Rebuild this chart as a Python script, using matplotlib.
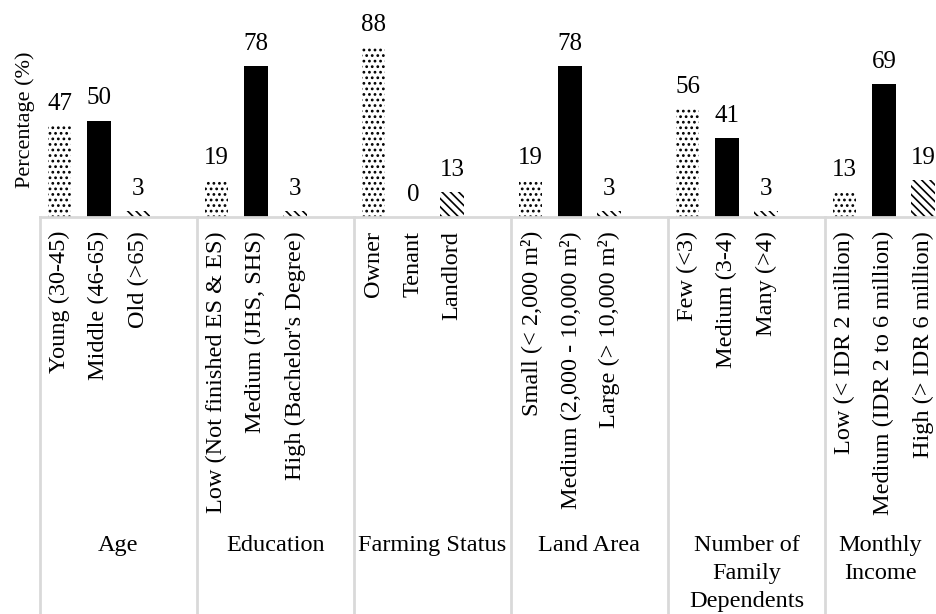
import matplotlib
matplotlib.use('Agg')
import matplotlib.pyplot as plt
import numpy as np

# data
groups = ['Age', 'Education', 'Farming Status', 'Land Area',
          'Number of\nFamily\nDependents', 'Monthly\nIncome']
labels = [
    ['Young (30-45)', 'Middle (46-65)', 'Old (>65)'],
    ['Low (Not finished ES & ES)', 'Medium (JHS, SHS)', "High (Bachelor's Degree)"],
    ['Owner', 'Tenant', 'Landlord'],
    ['Small (< 2,000 m²)', 'Medium (2,000 - 10,000 m²)', 'Large (> 10,000 m²)'],
    ['Few (<3)', 'Medium (3-4)', 'Many (>4)'],
    ['Low (< IDR 2 million)', 'Medium (IDR 2 to 6 million)', 'High (> IDR 6 million)'],
]
low_vals = [47, 19, 88, 19, 56, 13]
mid_vals = [50, 78, 0, 78, 41, 69]
high_vals = [3, 3, 13, 3, 3, 19]

plt.rcParams['font.family'] = ['Liberation Serif', 'DejaVu Serif']
plt.rcParams['font.size'] = 17.5
plt.rcParams['hatch.linewidth'] = 1.2

W, H = 936, 614
fig = plt.figure(figsize=(W / 100, H / 100), dpi=100)
base_px = 217
slot_px = 39.25
left_px = 40
n_slots = 4 * len(groups)
ax = fig.add_axes([left_px / W, (H - base_px) / H, slot_px * n_slots / W, base_px / H])

ax.set_xlim(0, n_slots)
ax.set_ylim(0, base_px / 1.93)

styles = [dict(color='white', hatch='...', edgecolor='black', linewidth=0),
          dict(color='black', linewidth=0),
          dict(color='white', hatch='\\\\\\\\', edgecolor='black', linewidth=0)]

grey = '#d9d9d9'
for g, name in enumerate(groups):
    vals = [low_vals[g], mid_vals[g], high_vals[g]]
    for i in range(3):
        x = 4 * g + i + 0.5
        ax.bar(x, vals[i], width=0.6, **styles[i])
        ax.annotate(str(vals[i]), (x, vals[i]), xytext=(0, 8), textcoords='offset points',
                    ha='center', va='bottom', fontsize=18)
        ax.annotate(labels[g][i], (x, 0), xycoords=('data', 'axes fraction'),
                    xytext=(0, -10), textcoords='offset points',
                    rotation=90, ha='center', va='top', annotation_clip=False)
    # group label centred on the visible part of its span
    g_left = left_px + 4 * g * slot_px
    g_right = min(left_px + 4 * (g + 1) * slot_px, W)
    xc = ((g_left + g_right) / 2 - left_px) / slot_px
    ax.annotate(name, (xc, 0), xycoords=('data', 'axes fraction'),
                xytext=(0, -229), textcoords='offset points',
                ha='center', va='top', linespacing=1.45, annotation_clip=False)

# category axis frame
ax.axhline(0, color=grey, linewidth=2, clip_on=False)
for g in range(len(groups) + 1):
    ax.plot([4 * g, 4 * g], [0, -(H - base_px) / base_px], color=grey, linewidth=2,
            transform=ax.get_xaxis_transform(), clip_on=False)

ax.axis('off')
fig.text(25 / W, 1 - 120 / H, 'Percentage (%)', rotation=90, ha='center', va='center',
         fontsize=16)

fig.savefig('out.png', dpi=100)
